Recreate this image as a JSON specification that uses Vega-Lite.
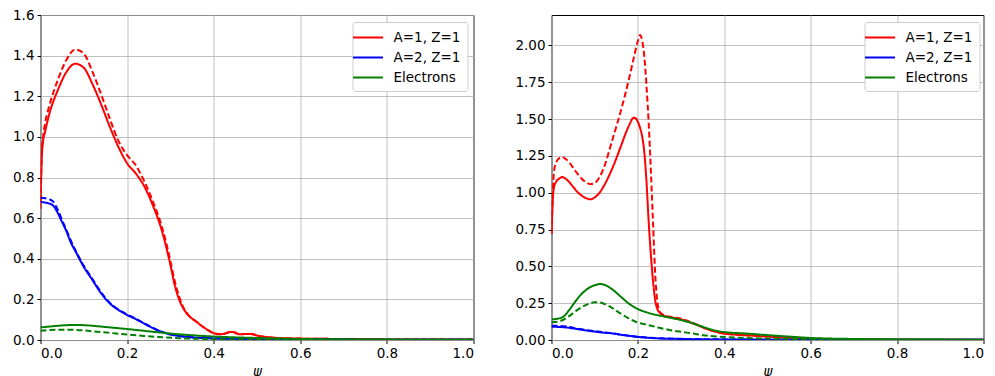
{
"$schema": "https://vega.github.io/schema/vega-lite/v6.json",
"background": "white",
"padding": {"left": 11.5, "top": 7, "right": 5, "bottom": 0},
"spacing": 78,
"bounds": "flush",
"datasets": {
"L": [
{"s":"A=1, Z=1","d":"solid","w":0,"v":0.645},{"s":"A=1, Z=1","d":"solid","w":0.003,"v":0.9},{"s":"A=1, Z=1","d":"solid","w":0.006,"v":0.98},{"s":"A=1, Z=1","d":"solid","w":0.01,"v":1.02},{"s":"A=1, Z=1","d":"solid","w":0.02,"v":1.11},{"s":"A=1, Z=1","d":"solid","w":0.04,"v":1.23},{"s":"A=1, Z=1","d":"solid","w":0.06,"v":1.32},{"s":"A=1, Z=1","d":"solid","w":0.08,"v":1.36},{"s":"A=1, Z=1","d":"solid","w":0.1,"v":1.34},{"s":"A=1, Z=1","d":"solid","w":0.12,"v":1.26},{"s":"A=1, Z=1","d":"solid","w":0.14,"v":1.16},{"s":"A=1, Z=1","d":"solid","w":0.16,"v":1.05},{"s":"A=1, Z=1","d":"solid","w":0.18,"v":0.95},{"s":"A=1, Z=1","d":"solid","w":0.2,"v":0.87},{"s":"A=1, Z=1","d":"solid","w":0.22,"v":0.82},{"s":"A=1, Z=1","d":"solid","w":0.24,"v":0.755},{"s":"A=1, Z=1","d":"solid","w":0.26,"v":0.66},{"s":"A=1, Z=1","d":"solid","w":0.28,"v":0.54},{"s":"A=1, Z=1","d":"solid","w":0.3,"v":0.37},{"s":"A=1, Z=1","d":"solid","w":0.31,"v":0.27},{"s":"A=1, Z=1","d":"solid","w":0.32,"v":0.2},{"s":"A=1, Z=1","d":"solid","w":0.33,"v":0.155},{"s":"A=1, Z=1","d":"solid","w":0.34,"v":0.125},{"s":"A=1, Z=1","d":"solid","w":0.36,"v":0.09},{"s":"A=1, Z=1","d":"solid","w":0.38,"v":0.058},{"s":"A=1, Z=1","d":"solid","w":0.4,"v":0.034},{"s":"A=1, Z=1","d":"solid","w":0.41,"v":0.028},{"s":"A=1, Z=1","d":"solid","w":0.42,"v":0.029},{"s":"A=1, Z=1","d":"solid","w":0.44,"v":0.04},{"s":"A=1, Z=1","d":"solid","w":0.45,"v":0.037},{"s":"A=1, Z=1","d":"solid","w":0.46,"v":0.028},{"s":"A=1, Z=1","d":"solid","w":0.48,"v":0.03},{"s":"A=1, Z=1","d":"solid","w":0.49,"v":0.03},{"s":"A=1, Z=1","d":"solid","w":0.5,"v":0.022},{"s":"A=1, Z=1","d":"solid","w":0.52,"v":0.015},{"s":"A=1, Z=1","d":"solid","w":0.55,"v":0.01},{"s":"A=1, Z=1","d":"solid","w":0.6,"v":0.007},{"s":"A=1, Z=1","d":"solid","w":0.7,"v":0.005},{"s":"A=1, Z=1","d":"solid","w":0.8,"v":0.003},{"s":"A=1, Z=1","d":"solid","w":1.0,"v":0.002},
{"s":"A=1, Z=1","d":"dashed","w":0,"v":0.68},{"s":"A=1, Z=1","d":"dashed","w":0.003,"v":0.92},{"s":"A=1, Z=1","d":"dashed","w":0.006,"v":1.0},{"s":"A=1, Z=1","d":"dashed","w":0.01,"v":1.06},{"s":"A=1, Z=1","d":"dashed","w":0.02,"v":1.15},{"s":"A=1, Z=1","d":"dashed","w":0.04,"v":1.28},{"s":"A=1, Z=1","d":"dashed","w":0.06,"v":1.38},{"s":"A=1, Z=1","d":"dashed","w":0.08,"v":1.43},{"s":"A=1, Z=1","d":"dashed","w":0.1,"v":1.41},{"s":"A=1, Z=1","d":"dashed","w":0.12,"v":1.32},{"s":"A=1, Z=1","d":"dashed","w":0.14,"v":1.21},{"s":"A=1, Z=1","d":"dashed","w":0.16,"v":1.09},{"s":"A=1, Z=1","d":"dashed","w":0.18,"v":0.98},{"s":"A=1, Z=1","d":"dashed","w":0.2,"v":0.91},{"s":"A=1, Z=1","d":"dashed","w":0.22,"v":0.86},{"s":"A=1, Z=1","d":"dashed","w":0.24,"v":0.78},{"s":"A=1, Z=1","d":"dashed","w":0.26,"v":0.68},{"s":"A=1, Z=1","d":"dashed","w":0.28,"v":0.56},{"s":"A=1, Z=1","d":"dashed","w":0.3,"v":0.39},{"s":"A=1, Z=1","d":"dashed","w":0.31,"v":0.29},{"s":"A=1, Z=1","d":"dashed","w":0.32,"v":0.215},{"s":"A=1, Z=1","d":"dashed","w":0.33,"v":0.16},{"s":"A=1, Z=1","d":"dashed","w":0.34,"v":0.127},{"s":"A=1, Z=1","d":"dashed","w":0.36,"v":0.09},{"s":"A=1, Z=1","d":"dashed","w":0.38,"v":0.058},{"s":"A=1, Z=1","d":"dashed","w":0.4,"v":0.034},{"s":"A=1, Z=1","d":"dashed","w":0.42,"v":0.029},{"s":"A=1, Z=1","d":"dashed","w":0.44,"v":0.04},{"s":"A=1, Z=1","d":"dashed","w":0.46,"v":0.028},{"s":"A=1, Z=1","d":"dashed","w":0.48,"v":0.03},{"s":"A=1, Z=1","d":"dashed","w":0.5,"v":0.022},{"s":"A=1, Z=1","d":"dashed","w":0.52,"v":0.015},{"s":"A=1, Z=1","d":"dashed","w":0.55,"v":0.01},{"s":"A=1, Z=1","d":"dashed","w":0.6,"v":0.007},{"s":"A=1, Z=1","d":"dashed","w":0.7,"v":0.005},{"s":"A=1, Z=1","d":"dashed","w":0.8,"v":0.003},{"s":"A=1, Z=1","d":"dashed","w":1.0,"v":0.002},
{"s":"A=2, Z=1","d":"solid","w":0,"v":0.68},{"s":"A=2, Z=1","d":"solid","w":0.01,"v":0.677},{"s":"A=2, Z=1","d":"solid","w":0.02,"v":0.672},{"s":"A=2, Z=1","d":"solid","w":0.03,"v":0.66},{"s":"A=2, Z=1","d":"solid","w":0.04,"v":0.625},{"s":"A=2, Z=1","d":"solid","w":0.05,"v":0.58},{"s":"A=2, Z=1","d":"solid","w":0.06,"v":0.535},{"s":"A=2, Z=1","d":"solid","w":0.07,"v":0.48},{"s":"A=2, Z=1","d":"solid","w":0.08,"v":0.44},{"s":"A=2, Z=1","d":"solid","w":0.1,"v":0.36},{"s":"A=2, Z=1","d":"solid","w":0.12,"v":0.295},{"s":"A=2, Z=1","d":"solid","w":0.14,"v":0.23},{"s":"A=2, Z=1","d":"solid","w":0.16,"v":0.18},{"s":"A=2, Z=1","d":"solid","w":0.18,"v":0.148},{"s":"A=2, Z=1","d":"solid","w":0.2,"v":0.123},{"s":"A=2, Z=1","d":"solid","w":0.22,"v":0.103},{"s":"A=2, Z=1","d":"solid","w":0.24,"v":0.08},{"s":"A=2, Z=1","d":"solid","w":0.26,"v":0.058},{"s":"A=2, Z=1","d":"solid","w":0.28,"v":0.04},{"s":"A=2, Z=1","d":"solid","w":0.3,"v":0.027},{"s":"A=2, Z=1","d":"solid","w":0.32,"v":0.02},{"s":"A=2, Z=1","d":"solid","w":0.35,"v":0.013},{"s":"A=2, Z=1","d":"solid","w":0.4,"v":0.008},{"s":"A=2, Z=1","d":"solid","w":0.5,"v":0.004},{"s":"A=2, Z=1","d":"solid","w":0.7,"v":0.002},{"s":"A=2, Z=1","d":"solid","w":1.0,"v":0.001},
{"s":"A=2, Z=1","d":"dashed","w":0,"v":0.7},{"s":"A=2, Z=1","d":"dashed","w":0.01,"v":0.698},{"s":"A=2, Z=1","d":"dashed","w":0.02,"v":0.693},{"s":"A=2, Z=1","d":"dashed","w":0.03,"v":0.68},{"s":"A=2, Z=1","d":"dashed","w":0.04,"v":0.64},{"s":"A=2, Z=1","d":"dashed","w":0.05,"v":0.59},{"s":"A=2, Z=1","d":"dashed","w":0.06,"v":0.54},{"s":"A=2, Z=1","d":"dashed","w":0.07,"v":0.49},{"s":"A=2, Z=1","d":"dashed","w":0.08,"v":0.445},{"s":"A=2, Z=1","d":"dashed","w":0.1,"v":0.365},{"s":"A=2, Z=1","d":"dashed","w":0.12,"v":0.3},{"s":"A=2, Z=1","d":"dashed","w":0.14,"v":0.235},{"s":"A=2, Z=1","d":"dashed","w":0.16,"v":0.183},{"s":"A=2, Z=1","d":"dashed","w":0.18,"v":0.15},{"s":"A=2, Z=1","d":"dashed","w":0.2,"v":0.126},{"s":"A=2, Z=1","d":"dashed","w":0.22,"v":0.105},{"s":"A=2, Z=1","d":"dashed","w":0.24,"v":0.082},{"s":"A=2, Z=1","d":"dashed","w":0.26,"v":0.06},{"s":"A=2, Z=1","d":"dashed","w":0.28,"v":0.041},{"s":"A=2, Z=1","d":"dashed","w":0.3,"v":0.028},{"s":"A=2, Z=1","d":"dashed","w":0.32,"v":0.02},{"s":"A=2, Z=1","d":"dashed","w":0.35,"v":0.013},{"s":"A=2, Z=1","d":"dashed","w":0.4,"v":0.008},{"s":"A=2, Z=1","d":"dashed","w":0.5,"v":0.004},{"s":"A=2, Z=1","d":"dashed","w":0.7,"v":0.002},{"s":"A=2, Z=1","d":"dashed","w":1.0,"v":0.001},
{"s":"Electrons","d":"solid","w":0,"v":0.062},{"s":"Electrons","d":"solid","w":0.02,"v":0.066},{"s":"Electrons","d":"solid","w":0.04,"v":0.07},{"s":"Electrons","d":"solid","w":0.06,"v":0.073},{"s":"Electrons","d":"solid","w":0.08,"v":0.074},{"s":"Electrons","d":"solid","w":0.1,"v":0.073},{"s":"Electrons","d":"solid","w":0.12,"v":0.07},{"s":"Electrons","d":"solid","w":0.14,"v":0.066},{"s":"Electrons","d":"solid","w":0.16,"v":0.062},{"s":"Electrons","d":"solid","w":0.2,"v":0.054},{"s":"Electrons","d":"solid","w":0.24,"v":0.045},{"s":"Electrons","d":"solid","w":0.28,"v":0.036},{"s":"Electrons","d":"solid","w":0.32,"v":0.028},{"s":"Electrons","d":"solid","w":0.36,"v":0.022},{"s":"Electrons","d":"solid","w":0.4,"v":0.017},{"s":"Electrons","d":"solid","w":0.45,"v":0.013},{"s":"Electrons","d":"solid","w":0.5,"v":0.01},{"s":"Electrons","d":"solid","w":0.6,"v":0.005},{"s":"Electrons","d":"solid","w":0.8,"v":0.002},{"s":"Electrons","d":"solid","w":1.0,"v":0.001},
{"s":"Electrons","d":"dashed","w":0,"v":0.045},{"s":"Electrons","d":"dashed","w":0.02,"v":0.049},{"s":"Electrons","d":"dashed","w":0.04,"v":0.051},{"s":"Electrons","d":"dashed","w":0.06,"v":0.051},{"s":"Electrons","d":"dashed","w":0.08,"v":0.05},{"s":"Electrons","d":"dashed","w":0.1,"v":0.047},{"s":"Electrons","d":"dashed","w":0.12,"v":0.043},{"s":"Electrons","d":"dashed","w":0.16,"v":0.035},{"s":"Electrons","d":"dashed","w":0.2,"v":0.027},{"s":"Electrons","d":"dashed","w":0.24,"v":0.02},{"s":"Electrons","d":"dashed","w":0.28,"v":0.014},{"s":"Electrons","d":"dashed","w":0.32,"v":0.009},{"s":"Electrons","d":"dashed","w":0.36,"v":0.006},{"s":"Electrons","d":"dashed","w":0.4,"v":0.004},{"s":"Electrons","d":"dashed","w":0.5,"v":0.002},{"s":"Electrons","d":"dashed","w":1.0,"v":0.001}
],
"R": [
{"s":"A=1, Z=1","d":"solid","w":0,"v":0.72},{"s":"A=1, Z=1","d":"solid","w":0.003,"v":0.95},{"s":"A=1, Z=1","d":"solid","w":0.006,"v":1.04},{"s":"A=1, Z=1","d":"solid","w":0.01,"v":1.07},{"s":"A=1, Z=1","d":"solid","w":0.02,"v":1.1},{"s":"A=1, Z=1","d":"solid","w":0.025,"v":1.107},{"s":"A=1, Z=1","d":"solid","w":0.03,"v":1.1},{"s":"A=1, Z=1","d":"solid","w":0.04,"v":1.075},{"s":"A=1, Z=1","d":"solid","w":0.05,"v":1.04},{"s":"A=1, Z=1","d":"solid","w":0.06,"v":1.005},{"s":"A=1, Z=1","d":"solid","w":0.07,"v":0.98},{"s":"A=1, Z=1","d":"solid","w":0.08,"v":0.963},{"s":"A=1, Z=1","d":"solid","w":0.09,"v":0.955},{"s":"A=1, Z=1","d":"solid","w":0.1,"v":0.968},{"s":"A=1, Z=1","d":"solid","w":0.11,"v":0.995},{"s":"A=1, Z=1","d":"solid","w":0.12,"v":1.04},{"s":"A=1, Z=1","d":"solid","w":0.14,"v":1.16},{"s":"A=1, Z=1","d":"solid","w":0.16,"v":1.31},{"s":"A=1, Z=1","d":"solid","w":0.17,"v":1.39},{"s":"A=1, Z=1","d":"solid","w":0.18,"v":1.46},{"s":"A=1, Z=1","d":"solid","w":0.19,"v":1.508},{"s":"A=1, Z=1","d":"solid","w":0.195,"v":1.505},{"s":"A=1, Z=1","d":"solid","w":0.2,"v":1.48},{"s":"A=1, Z=1","d":"solid","w":0.205,"v":1.44},{"s":"A=1, Z=1","d":"solid","w":0.21,"v":1.38},{"s":"A=1, Z=1","d":"solid","w":0.215,"v":1.27},{"s":"A=1, Z=1","d":"solid","w":0.22,"v":1.07},{"s":"A=1, Z=1","d":"solid","w":0.225,"v":0.8},{"s":"A=1, Z=1","d":"solid","w":0.23,"v":0.58},{"s":"A=1, Z=1","d":"solid","w":0.235,"v":0.4},{"s":"A=1, Z=1","d":"solid","w":0.24,"v":0.27},{"s":"A=1, Z=1","d":"solid","w":0.245,"v":0.21},{"s":"A=1, Z=1","d":"solid","w":0.25,"v":0.188},{"s":"A=1, Z=1","d":"solid","w":0.255,"v":0.172},{"s":"A=1, Z=1","d":"solid","w":0.26,"v":0.165},{"s":"A=1, Z=1","d":"solid","w":0.28,"v":0.152},{"s":"A=1, Z=1","d":"solid","w":0.3,"v":0.14},{"s":"A=1, Z=1","d":"solid","w":0.32,"v":0.12},{"s":"A=1, Z=1","d":"solid","w":0.34,"v":0.098},{"s":"A=1, Z=1","d":"solid","w":0.36,"v":0.074},{"s":"A=1, Z=1","d":"solid","w":0.38,"v":0.056},{"s":"A=1, Z=1","d":"solid","w":0.4,"v":0.043},{"s":"A=1, Z=1","d":"solid","w":0.44,"v":0.034},{"s":"A=1, Z=1","d":"solid","w":0.48,"v":0.027},{"s":"A=1, Z=1","d":"solid","w":0.52,"v":0.02},{"s":"A=1, Z=1","d":"solid","w":0.56,"v":0.014},{"s":"A=1, Z=1","d":"solid","w":0.6,"v":0.009},{"s":"A=1, Z=1","d":"solid","w":0.7,"v":0.004},{"s":"A=1, Z=1","d":"solid","w":0.8,"v":0.002},{"s":"A=1, Z=1","d":"solid","w":1.0,"v":0.001},
{"s":"A=1, Z=1","d":"dashed","w":0,"v":0.72},{"s":"A=1, Z=1","d":"dashed","w":0.003,"v":1.0},{"s":"A=1, Z=1","d":"dashed","w":0.006,"v":1.15},{"s":"A=1, Z=1","d":"dashed","w":0.01,"v":1.2},{"s":"A=1, Z=1","d":"dashed","w":0.02,"v":1.238},{"s":"A=1, Z=1","d":"dashed","w":0.025,"v":1.242},{"s":"A=1, Z=1","d":"dashed","w":0.03,"v":1.235},{"s":"A=1, Z=1","d":"dashed","w":0.04,"v":1.21},{"s":"A=1, Z=1","d":"dashed","w":0.05,"v":1.17},{"s":"A=1, Z=1","d":"dashed","w":0.06,"v":1.13},{"s":"A=1, Z=1","d":"dashed","w":0.07,"v":1.095},{"s":"A=1, Z=1","d":"dashed","w":0.08,"v":1.07},{"s":"A=1, Z=1","d":"dashed","w":0.09,"v":1.058},{"s":"A=1, Z=1","d":"dashed","w":0.1,"v":1.065},{"s":"A=1, Z=1","d":"dashed","w":0.11,"v":1.1},{"s":"A=1, Z=1","d":"dashed","w":0.12,"v":1.16},{"s":"A=1, Z=1","d":"dashed","w":0.14,"v":1.35},{"s":"A=1, Z=1","d":"dashed","w":0.16,"v":1.55},{"s":"A=1, Z=1","d":"dashed","w":0.17,"v":1.66},{"s":"A=1, Z=1","d":"dashed","w":0.18,"v":1.78},{"s":"A=1, Z=1","d":"dashed","w":0.19,"v":1.91},{"s":"A=1, Z=1","d":"dashed","w":0.2,"v":2.03},{"s":"A=1, Z=1","d":"dashed","w":0.205,"v":2.07},{"s":"A=1, Z=1","d":"dashed","w":0.21,"v":2.03},{"s":"A=1, Z=1","d":"dashed","w":0.215,"v":1.92},{"s":"A=1, Z=1","d":"dashed","w":0.22,"v":1.72},{"s":"A=1, Z=1","d":"dashed","w":0.225,"v":1.47},{"s":"A=1, Z=1","d":"dashed","w":0.23,"v":1.15},{"s":"A=1, Z=1","d":"dashed","w":0.235,"v":0.8},{"s":"A=1, Z=1","d":"dashed","w":0.24,"v":0.45},{"s":"A=1, Z=1","d":"dashed","w":0.245,"v":0.26},{"s":"A=1, Z=1","d":"dashed","w":0.25,"v":0.195},{"s":"A=1, Z=1","d":"dashed","w":0.255,"v":0.178},{"s":"A=1, Z=1","d":"dashed","w":0.26,"v":0.168},{"s":"A=1, Z=1","d":"dashed","w":0.28,"v":0.155},{"s":"A=1, Z=1","d":"dashed","w":0.3,"v":0.145},{"s":"A=1, Z=1","d":"dashed","w":0.32,"v":0.125},{"s":"A=1, Z=1","d":"dashed","w":0.34,"v":0.1},{"s":"A=1, Z=1","d":"dashed","w":0.36,"v":0.075},{"s":"A=1, Z=1","d":"dashed","w":0.38,"v":0.057},{"s":"A=1, Z=1","d":"dashed","w":0.4,"v":0.044},{"s":"A=1, Z=1","d":"dashed","w":0.44,"v":0.035},{"s":"A=1, Z=1","d":"dashed","w":0.48,"v":0.028},{"s":"A=1, Z=1","d":"dashed","w":0.52,"v":0.021},{"s":"A=1, Z=1","d":"dashed","w":0.56,"v":0.015},{"s":"A=1, Z=1","d":"dashed","w":0.6,"v":0.01},{"s":"A=1, Z=1","d":"dashed","w":0.7,"v":0.005},{"s":"A=1, Z=1","d":"dashed","w":0.8,"v":0.003},{"s":"A=1, Z=1","d":"dashed","w":1.0,"v":0.002},
{"s":"A=2, Z=1","d":"solid","w":0,"v":0.09},{"s":"A=2, Z=1","d":"solid","w":0.02,"v":0.088},{"s":"A=2, Z=1","d":"solid","w":0.04,"v":0.083},{"s":"A=2, Z=1","d":"solid","w":0.06,"v":0.074},{"s":"A=2, Z=1","d":"solid","w":0.08,"v":0.065},{"s":"A=2, Z=1","d":"solid","w":0.1,"v":0.057},{"s":"A=2, Z=1","d":"solid","w":0.12,"v":0.05},{"s":"A=2, Z=1","d":"solid","w":0.14,"v":0.045},{"s":"A=2, Z=1","d":"solid","w":0.16,"v":0.036},{"s":"A=2, Z=1","d":"solid","w":0.18,"v":0.028},{"s":"A=2, Z=1","d":"solid","w":0.2,"v":0.021},{"s":"A=2, Z=1","d":"solid","w":0.24,"v":0.012},{"s":"A=2, Z=1","d":"solid","w":0.3,"v":0.007},{"s":"A=2, Z=1","d":"solid","w":0.4,"v":0.003},{"s":"A=2, Z=1","d":"solid","w":0.6,"v":0.002},{"s":"A=2, Z=1","d":"solid","w":1.0,"v":0.001},
{"s":"A=2, Z=1","d":"dashed","w":0,"v":0.097},{"s":"A=2, Z=1","d":"dashed","w":0.02,"v":0.095},{"s":"A=2, Z=1","d":"dashed","w":0.04,"v":0.089},{"s":"A=2, Z=1","d":"dashed","w":0.06,"v":0.078},{"s":"A=2, Z=1","d":"dashed","w":0.08,"v":0.068},{"s":"A=2, Z=1","d":"dashed","w":0.1,"v":0.06},{"s":"A=2, Z=1","d":"dashed","w":0.12,"v":0.052},{"s":"A=2, Z=1","d":"dashed","w":0.14,"v":0.046},{"s":"A=2, Z=1","d":"dashed","w":0.16,"v":0.037},{"s":"A=2, Z=1","d":"dashed","w":0.18,"v":0.029},{"s":"A=2, Z=1","d":"dashed","w":0.2,"v":0.022},{"s":"A=2, Z=1","d":"dashed","w":0.24,"v":0.013},{"s":"A=2, Z=1","d":"dashed","w":0.3,"v":0.008},{"s":"A=2, Z=1","d":"dashed","w":0.4,"v":0.004},{"s":"A=2, Z=1","d":"dashed","w":0.6,"v":0.002},{"s":"A=2, Z=1","d":"dashed","w":1.0,"v":0.001},
{"s":"Electrons","d":"solid","w":0,"v":0.14},{"s":"Electrons","d":"solid","w":0.02,"v":0.148},{"s":"Electrons","d":"solid","w":0.03,"v":0.165},{"s":"Electrons","d":"solid","w":0.04,"v":0.2},{"s":"Electrons","d":"solid","w":0.05,"v":0.24},{"s":"Electrons","d":"solid","w":0.06,"v":0.28},{"s":"Electrons","d":"solid","w":0.08,"v":0.34},{"s":"Electrons","d":"solid","w":0.1,"v":0.372},{"s":"Electrons","d":"solid","w":0.113,"v":0.38},{"s":"Electrons","d":"solid","w":0.12,"v":0.377},{"s":"Electrons","d":"solid","w":0.14,"v":0.345},{"s":"Electrons","d":"solid","w":0.16,"v":0.295},{"s":"Electrons","d":"solid","w":0.18,"v":0.245},{"s":"Electrons","d":"solid","w":0.2,"v":0.21},{"s":"Electrons","d":"solid","w":0.22,"v":0.188},{"s":"Electrons","d":"solid","w":0.24,"v":0.172},{"s":"Electrons","d":"solid","w":0.26,"v":0.16},{"s":"Electrons","d":"solid","w":0.28,"v":0.148},{"s":"Electrons","d":"solid","w":0.3,"v":0.135},{"s":"Electrons","d":"solid","w":0.32,"v":0.12},{"s":"Electrons","d":"solid","w":0.34,"v":0.1},{"s":"Electrons","d":"solid","w":0.36,"v":0.08},{"s":"Electrons","d":"solid","w":0.38,"v":0.063},{"s":"Electrons","d":"solid","w":0.4,"v":0.054},{"s":"Electrons","d":"solid","w":0.45,"v":0.044},{"s":"Electrons","d":"solid","w":0.5,"v":0.033},{"s":"Electrons","d":"solid","w":0.55,"v":0.023},{"s":"Electrons","d":"solid","w":0.6,"v":0.014},{"s":"Electrons","d":"solid","w":0.7,"v":0.007},{"s":"Electrons","d":"solid","w":0.8,"v":0.004},{"s":"Electrons","d":"solid","w":1.0,"v":0.002},
{"s":"Electrons","d":"dashed","w":0,"v":0.12},{"s":"Electrons","d":"dashed","w":0.02,"v":0.128},{"s":"Electrons","d":"dashed","w":0.04,"v":0.16},{"s":"Electrons","d":"dashed","w":0.06,"v":0.205},{"s":"Electrons","d":"dashed","w":0.08,"v":0.238},{"s":"Electrons","d":"dashed","w":0.1,"v":0.256},{"s":"Electrons","d":"dashed","w":0.11,"v":0.255},{"s":"Electrons","d":"dashed","w":0.12,"v":0.248},{"s":"Electrons","d":"dashed","w":0.14,"v":0.218},{"s":"Electrons","d":"dashed","w":0.16,"v":0.18},{"s":"Electrons","d":"dashed","w":0.18,"v":0.145},{"s":"Electrons","d":"dashed","w":0.2,"v":0.118},{"s":"Electrons","d":"dashed","w":0.22,"v":0.104},{"s":"Electrons","d":"dashed","w":0.24,"v":0.09},{"s":"Electrons","d":"dashed","w":0.26,"v":0.076},{"s":"Electrons","d":"dashed","w":0.28,"v":0.064},{"s":"Electrons","d":"dashed","w":0.3,"v":0.056},{"s":"Electrons","d":"dashed","w":0.32,"v":0.047},{"s":"Electrons","d":"dashed","w":0.34,"v":0.038},{"s":"Electrons","d":"dashed","w":0.36,"v":0.03},{"s":"Electrons","d":"dashed","w":0.4,"v":0.02},{"s":"Electrons","d":"dashed","w":0.45,"v":0.014},{"s":"Electrons","d":"dashed","w":0.5,"v":0.01},{"s":"Electrons","d":"dashed","w":0.6,"v":0.006},{"s":"Electrons","d":"dashed","w":0.8,"v":0.002},{"s":"Electrons","d":"dashed","w":1.0,"v":0.001}
]
},
"hconcat": [
{
"width": 433, "height": 325,
"data": {"name": "L"},
"mark": {"type": "line", "strokeWidth": 2, "interpolate": "monotone", "clip": true},
"encoding": {
"x": {"field": "w", "type": "quantitative", "scale": {"domain": [0, 1], "nice": false}, "axis": {"values": [0, 0.2, 0.4, 0.6, 0.8, 1], "format": ".1f", "title": "ψ"}},
"y": {"field": "v", "type": "quantitative", "scale": {"domain": [0, 1.6], "nice": false}, "axis": {"values": [0, 0.2, 0.4, 0.6, 0.8, 1.0, 1.2, 1.4, 1.6], "format": ".1f", "title": null}},
"color": {"field": "s", "type": "nominal", "scale": {"domain": ["A=1, Z=1", "A=2, Z=1", "Electrons"], "range": ["#ff0000", "#0000ff", "#008000"]}, "legend": {"title": null, "orient": "none", "legendX": 312, "legendY": 7}},
"strokeDash": {"field": "d", "type": "nominal", "scale": {"domain": ["solid", "dashed"], "range": [[1, 0], [6, 3]]}, "legend": null}
}
},
{
"width": 432, "height": 325,
"data": {"name": "R"},
"mark": {"type": "line", "strokeWidth": 2, "interpolate": "monotone", "clip": true},
"encoding": {
"x": {"field": "w", "type": "quantitative", "scale": {"domain": [0, 1], "nice": false}, "axis": {"values": [0, 0.2, 0.4, 0.6, 0.8, 1], "format": ".1f", "title": "ψ"}},
"y": {"field": "v", "type": "quantitative", "scale": {"domain": [0, 2.206], "nice": false}, "axis": {"values": [0, 0.25, 0.5, 0.75, 1.0, 1.25, 1.5, 1.75, 2.0], "format": ".2f", "title": null}},
"color": {"field": "s", "type": "nominal", "scale": {"domain": ["A=1, Z=1", "A=2, Z=1", "Electrons"], "range": ["#ff0000", "#0000ff", "#008000"]}, "legend": {"title": null, "orient": "none", "legendX": 313, "legendY": 7}},
"strokeDash": {"field": "d", "type": "nominal", "scale": {"domain": ["solid", "dashed"], "range": [[1, 0], [6, 3]]}, "legend": null}
}
}
],
"resolve": {"scale": {"color": "independent", "y": "independent", "x": "independent", "strokeDash": "independent"}, "legend": {"color": "independent"}, "axis": {"y": "independent"}},
"config": {
"font": "DejaVu Sans",
"view": {"stroke": "#000000", "strokeWidth": 1},
"axis": {"labelFont": "DejaVu Sans", "labelFontSize": 13.5, "labelColor": "#000000", "tickColor": "#000000", "tickSize": 3.5, "tickWidth": 1, "labelPadding": 3, "domain": false, "grid": true, "gridColor": "#b0b0b0", "gridWidth": 0.8, "titleFont": "DejaVu Sans", "titleFontSize": 13.5, "titleFontStyle": "italic", "titleFontWeight": "normal", "titleColor": "#000000", "titlePadding": 4},
"legend": {"labelFont": "DejaVu Sans", "labelFontSize": 13.5, "labelColor": "#000000", "symbolType": "M-2,0H2", "symbolSize": 225, "symbolStrokeWidth": 2, "rowPadding": 5, "padding": 7, "strokeColor": "#cccccc", "fillColor": "#ffffff", "cornerRadius": 3, "labelOffset": 17}
}
}
